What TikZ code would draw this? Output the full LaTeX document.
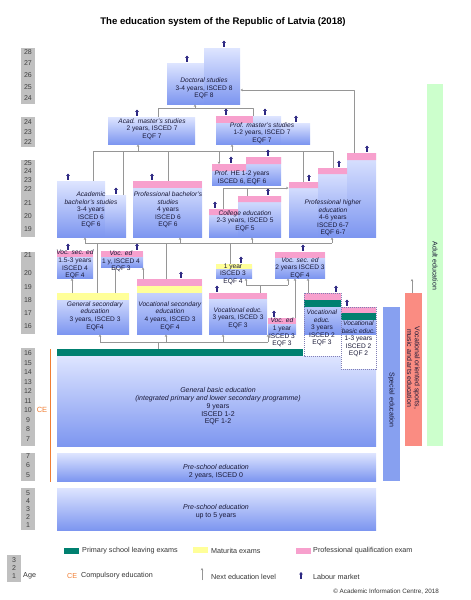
\documentclass[tikz,border=0pt]{standalone}
\usepackage{fontspec}
\setmainfont{Liberation Sans}
\usetikzlibrary{arrows.meta}
\definecolor{blueT}{RGB}{222,229,255}
\definecolor{blueB}{RGB}{125,150,240}
\definecolor{pinkQ}{RGB}{247,160,205}
\definecolor{yelM}{RGB}{255,255,153}
\definecolor{tealP}{RGB}{0,128,112}
\definecolor{ageG}{RGB}{192,192,192}
\definecolor{ceO}{RGB}{240,125,50}
\definecolor{navyL}{RGB}{45,40,130}
\definecolor{lineG}{RGB}{150,150,150}
\definecolor{specB}{RGB}{135,160,240}
\definecolor{salm}{RGB}{250,140,130}
\definecolor{adultG}{RGB}{204,255,204}
\definecolor{txtD}{RGB}{25,25,55}
\tikzset{
  blk/.style={top color=blueT, bottom color=blueB},
  lnk/.style={draw=lineG, line width=0.7pt},
  nxt/.style={lnk, -{Stealth[length=2.4pt,width=2.6pt]}},
  labm/.style={draw=navyL, line width=1.1pt, -{Triangle[length=2.4pt,width=3.6pt]}},
  txt/.style={font=\fontsize{6.6}{7.6}\selectfont, align=center, text=txtD, inner sep=0pt},
  agen/.style={font=\fontsize{7}{8}\selectfont, text=black!75},
  leg/.style={font=\fontsize{7.2}{8.5}\selectfont, anchor=west, text=black!80, inner sep=0pt},
  dotbox/.style={draw=navyL!60, line width=0.5pt, dash pattern=on 1pt off 1pt},
}
\begin{document}
\begin{tikzpicture}[x=1pt, y=-1pt, line join=round]
\useasboundingbox (0,0) rectangle (471,600);
\node[font=\bfseries\fontsize{9.6}{11}\selectfont] (title) at (223,22) {The education system of the Republic of Latvia (2018)};

% age columns
\foreach \ya/\yb in {48/104,117/147,160/237,252/334,348/446,453/481,488/530}
  \fill[ageG] (21,\ya) rectangle (35,\yb);
\fill[ageG] (7,555) rectangle (21,582);
\foreach \ag/\y in {28/52,27/63,26/75,25/87,24/98, 24/122,23/132,22/142,
  25/163,24/171,23/180,22/189,21/203,20/216,19/229,
  21/255,20/273,19/287,18/300,17/313,16/326,
  16/353,15/363,14/372,13/382,12/391,11/401,10/410,9/420,8/429,7/439,
  7/456,6/465,5/475, 5/493,4/501,3/509,2/517,1/525}
  \node[agen] at (28,\y) {\ag};
\foreach \ag/\y in {3/560,2/568,1/576}
  \node[agen] at (14,\y) {\ag};

% compulsory education
\draw[ceO, line width=1pt] (50,349) -- (50,482);
\node[font=\fontsize{7.5}{9}\selectfont, text=ceO] (ce) at (42,410) {CE};

% bars on the right
\fill[adultG] (427,84) rectangle (443,446);
\fill[salm] (405,293) rectangle (422,446);
\fill[specB] (383,307) rectangle (400,481);

% tertiary level
\shade[blk] (167,63) rectangle (204,104);
\shade[blk] (204,48) rectangle (240,104);
\shade[blk] (108,117) rectangle (195,144);
\shade[blk] (216,116) rectangle (281,144);
\shade[blk] (281,123) rectangle (310,144);
\fill[pinkQ] (216,116) rectangle (253,123);
\shade[blk] (57,181) rectangle (105,237);
\shade[blk] (105,195) rectangle (126,237);
\shade[blk] (133,181) rectangle (202,237);
\fill[pinkQ] (133,181) rectangle (202,188);
\shade[blk] (212,164) rectangle (246,185);
\shade[blk] (246,157) rectangle (281,185);
\fill[pinkQ] (212,164) rectangle (246,171) (246,157) rectangle (281,164);
\shade[blk] (209,209) rectangle (238,237);
\shade[blk] (238,196) rectangle (281,237);
\fill[pinkQ] (209,209) rectangle (238,215) (238,196) rectangle (281,202);
\shade[blk] (289,182) rectangle (318,237);
\shade[blk] (318,168) rectangle (347,237);
\shade[blk] (347,153) rectangle (376,237);
\fill[pinkQ] (289,182) rectangle (318,188) (318,168) rectangle (347,174) (347,153) rectangle (376,160);

% secondary level
\shade[blk] (57,251) rectangle (93,278);
\fill[pinkQ] (57,251) rectangle (93,257);
\shade[blk] (101,251) rectangle (143,267);
\fill[pinkQ] (101,251) rectangle (143,257);
\shade[blk] (216,264) rectangle (252,278);
\fill[yelM] (216,264) rectangle (252,269);
\shade[blk] (275,252) rectangle (325,278);
\fill[pinkQ] (275,252) rectangle (325,258);
\shade[blk] (57,293) rectangle (129,334);
\fill[yelM] (57,293) rectangle (129,300);
\shade[blk] (137,279) rectangle (202,334);
\fill[pinkQ] (137,279) rectangle (202,286);
\fill[yelM] (137,286) rectangle (202,293);
\shade[blk] (209,293) rectangle (267,334);
\fill[pinkQ] (209,293) rectangle (267,299);
\shade[blk] (268,318) rectangle (296,334);
\fill[pinkQ] (268,318) rectangle (296,324);

% basic and pre-school
\shade[blk] (57,356) rectangle (376,446);
\fill[tealP] (57,349) rectangle (303,356);
\shade[blk] (57,453) rectangle (376,481);
\shade[blk] (57,488) rectangle (376,530);

% vocational basic (dotted)
\fill[white] (304,334) rectangle (341,356);
\shade[blk] (304,293) rectangle (341,334);
\fill[pinkQ] (304,293) rectangle (341,300);
\fill[tealP] (304,300) rectangle (341,307);
\draw[dotbox] (304,293) rectangle (341,356);
\fill[white] (341,334) rectangle (376,369);
\shade[blk] (341,307) rectangle (376,334);
\fill[pinkQ] (341,307) rectangle (376,313);
\fill[tealP] (341,313) rectangle (376,320);
\draw[dotbox] (341,307) rectangle (376,369);

% next education level
\draw[lnk] (158,117) -- (158,108) -- (253,108) -- (253,116);
\draw[nxt] (195,108) -- (195,104.5);
\draw[nxt] (354,153) -- (354,90) -- (240.5,90);
\draw[lnk] (93,181) -- (93,151) -- (333,151) -- (333,168);
\draw[lnk] (123,151) -- (123,195) (168,151) -- (168,181) (303,151) -- (303,182);
\draw[nxt] (219,151) -- (219,164);
\draw[nxt] (138,151) -- (138,144.5);
\draw[nxt] (232,151) -- (232,144.5);
\draw[nxt] (223,209) -- (223,188) -- (288.5,188);
\draw[lnk] (247,188) -- (247,196);
\draw[lnk] (85,243) -- (332,243);
\foreach \x in {85,180,252,332} \draw[nxt] (\x,243) -- (\x,237.5);
\draw[lnk] (97,243) -- (97,293) (166,243) -- (166,279) (230,243) -- (230,264);
\draw[nxt] (72,293) -- (72,278.5);
\draw[nxt] (115,293) -- (115,267.5);
\draw[nxt] (143,279) -- (143,267.5);
\draw[nxt] (246,285) -- (246,278.5);
\draw[lnk] (246,285) -- (288,285) (260,285) -- (260,293);
\draw[nxt] (288,285) -- (288,278.5);
\draw[nxt] (295,318) -- (295,278.5);
\draw[nxt] (308,293) -- (308,278.5);
\draw[nxt] (412,293) -- (412,279);
\draw[lnk] (100,342) -- (268,342) (158,342) -- (158,349);
\foreach \x in {100,166,223,268} \draw[nxt] (\x,342) -- (\x,334.5);

% labels
\node[txt] (doct) at (204,88.5) {\textit{Doctoral studies}\\3-4 years, ISCED 8\\EQF 8};
\node[txt] (acadmast) at (152,129) {\textit{Acad. master's studies}\\2 years, ISCED 7\\EQF 7};
\node[txt] (profmast) at (262,133) {\textit{Prof. master's studies}\\1-2 years, ISCED 7\\EQF 7};
\node[txt] (acadbach) at (91,210) {\textit{Academic}\\\textit{bachelor's studies}\\3-4 years\\ISCED 6\\EQF 6};
\node[txt] (profbach) at (168,210) {\textit{Professional bachelor's}\\\textit{studies}\\4 years\\ISCED 6\\EQF 6};
\node[txt] (profhe) at (242,178) {\textit{Prof.} HE 1-2 years\\ISCED 6, EQF 6};
\node[txt] (college) at (245,221) {\textit{College education}\\2-3 years, ISCED 5\\EQF 5};
\node[txt] (profhigh) at (333,218) {\textit{Professional higher}\\\textit{education}\\4-6 years\\ISCED 6-7\\EQF 6-7};
\node[txt] (vocsec) at (75,264.5) {\textit{Voc. sec. ed}\\1.5-3 years\\ISCED 4\\EQF 4};
\node[txt] (voced) at (121,261.5) {\textit{Voc. ed}\\1 y, ISCED 4\\EQF 3};
\node[txt] (oneyear) at (233,274) {1 year\\ISCED 3\\EQF 4};
\node[txt] (vocsectwo) at (300,268) {\textit{Voc. sec. ed}\\2 years ISCED 3\\EQF 4};
\node[txt] (gensec) at (95,316) {\textit{General secondary}\\\textit{education}\\3 years, ISCED 3\\EQF4};
\node[txt] (vocsecond) at (170,316) {\textit{Vocational secondary}\\\textit{education}\\4 years, ISCED 3\\EQF 4};
\node[txt] (voceduc) at (238,318) {\textit{Vocational educ.}\\3 years, ISCED 3\\EQF 3};
\node[txt] (vocedone) at (282,332.5) {\textit{Voc. ed}\\1 year\\ISCED 3\\EQF 3};
\node[txt] (voceductwo) at (322,328) {\textit{Vocational}\\\textit{educ.}\\3 years\\ISCED 2\\EQF 3};
\node[txt] (vocbasic) at (358.5,339) {\textit{Vocational}\\\textit{basic educ.}\\1-3 years\\ISCED 2\\EQF 2};
\node[txt, font=\fontsize{7}{7.8}\selectfont] (genbasic) at (218,406.5) {\textit{General basic education}\\\textit{(integrated primary and lower secondary programme)}\\9 years\\ISCED 1-2\\EQF 1-2};
\node[txt, font=\fontsize{7}{8.6}\selectfont] (preschool) at (216,471.5) {\textit{Pre-school education}\\2 years, ISCED 0};
\node[txt, font=\fontsize{7}{8.6}\selectfont] (preschoolb) at (216,511.5) {\textit{Pre-school education}\\up to 5 years};
\node[txt, font=\fontsize{7}{8}\selectfont, rotate=-90] (adult) at (435,266) {Adult education};
\node[txt, font=\fontsize{7}{8}\selectfont, rotate=-90] (special) at (391.5,400) {Special education};
\node[txt, font=\fontsize{7}{7.6}\selectfont, rotate=-90] (sports) at (413.5,368) {Vocational oriented sports,\\music and arts education};

% labour market
\foreach \x/\y in {187/63,224/48,137/117,226/116,265/116,296/123,68/181,116/195,152/181,
  231/164,268/157,215/209,268/196,309/182,339/168,367/153,68/251,137/251,181/279,
  241/264,303/252,217/293,274/318,336/293,347/307}
  \draw[labm] (\x,\y-1.5) -- (\x,\y-7.5);

% legend
\fill[tealP] (64,548) rectangle (79,554);
\node[leg] (legteal) at (82,551) {Primary school leaving exams};
\fill[yelM] (193,547) rectangle (208,553);
\node[leg] (legyel) at (211,551) {Maturita exams};
\fill[pinkQ] (296,548) rectangle (311,554);
\node[leg] (legpink) at (313,551) {Professional qualification exam};
\node[leg] (legage) at (23,576) {Age};
\node[leg, text=ceO] (legce) at (67,576) {CE};
\node[leg] (legcomp) at (81,576) {Compulsory education};
\draw[nxt] (202,580) -- (202,568);
\node[leg] (legnext) at (211,577) {Next education level};
\draw[labm] (301,579) -- (301,572);
\node[leg] (leglab) at (313,577) {Labour market};
\node[leg, anchor=east, font=\fontsize{6.3}{7.5}\selectfont] (copy) at (439,592) {\textcopyright{} Academic Information Centre, 2018};
\end{tikzpicture}
\end{document}
